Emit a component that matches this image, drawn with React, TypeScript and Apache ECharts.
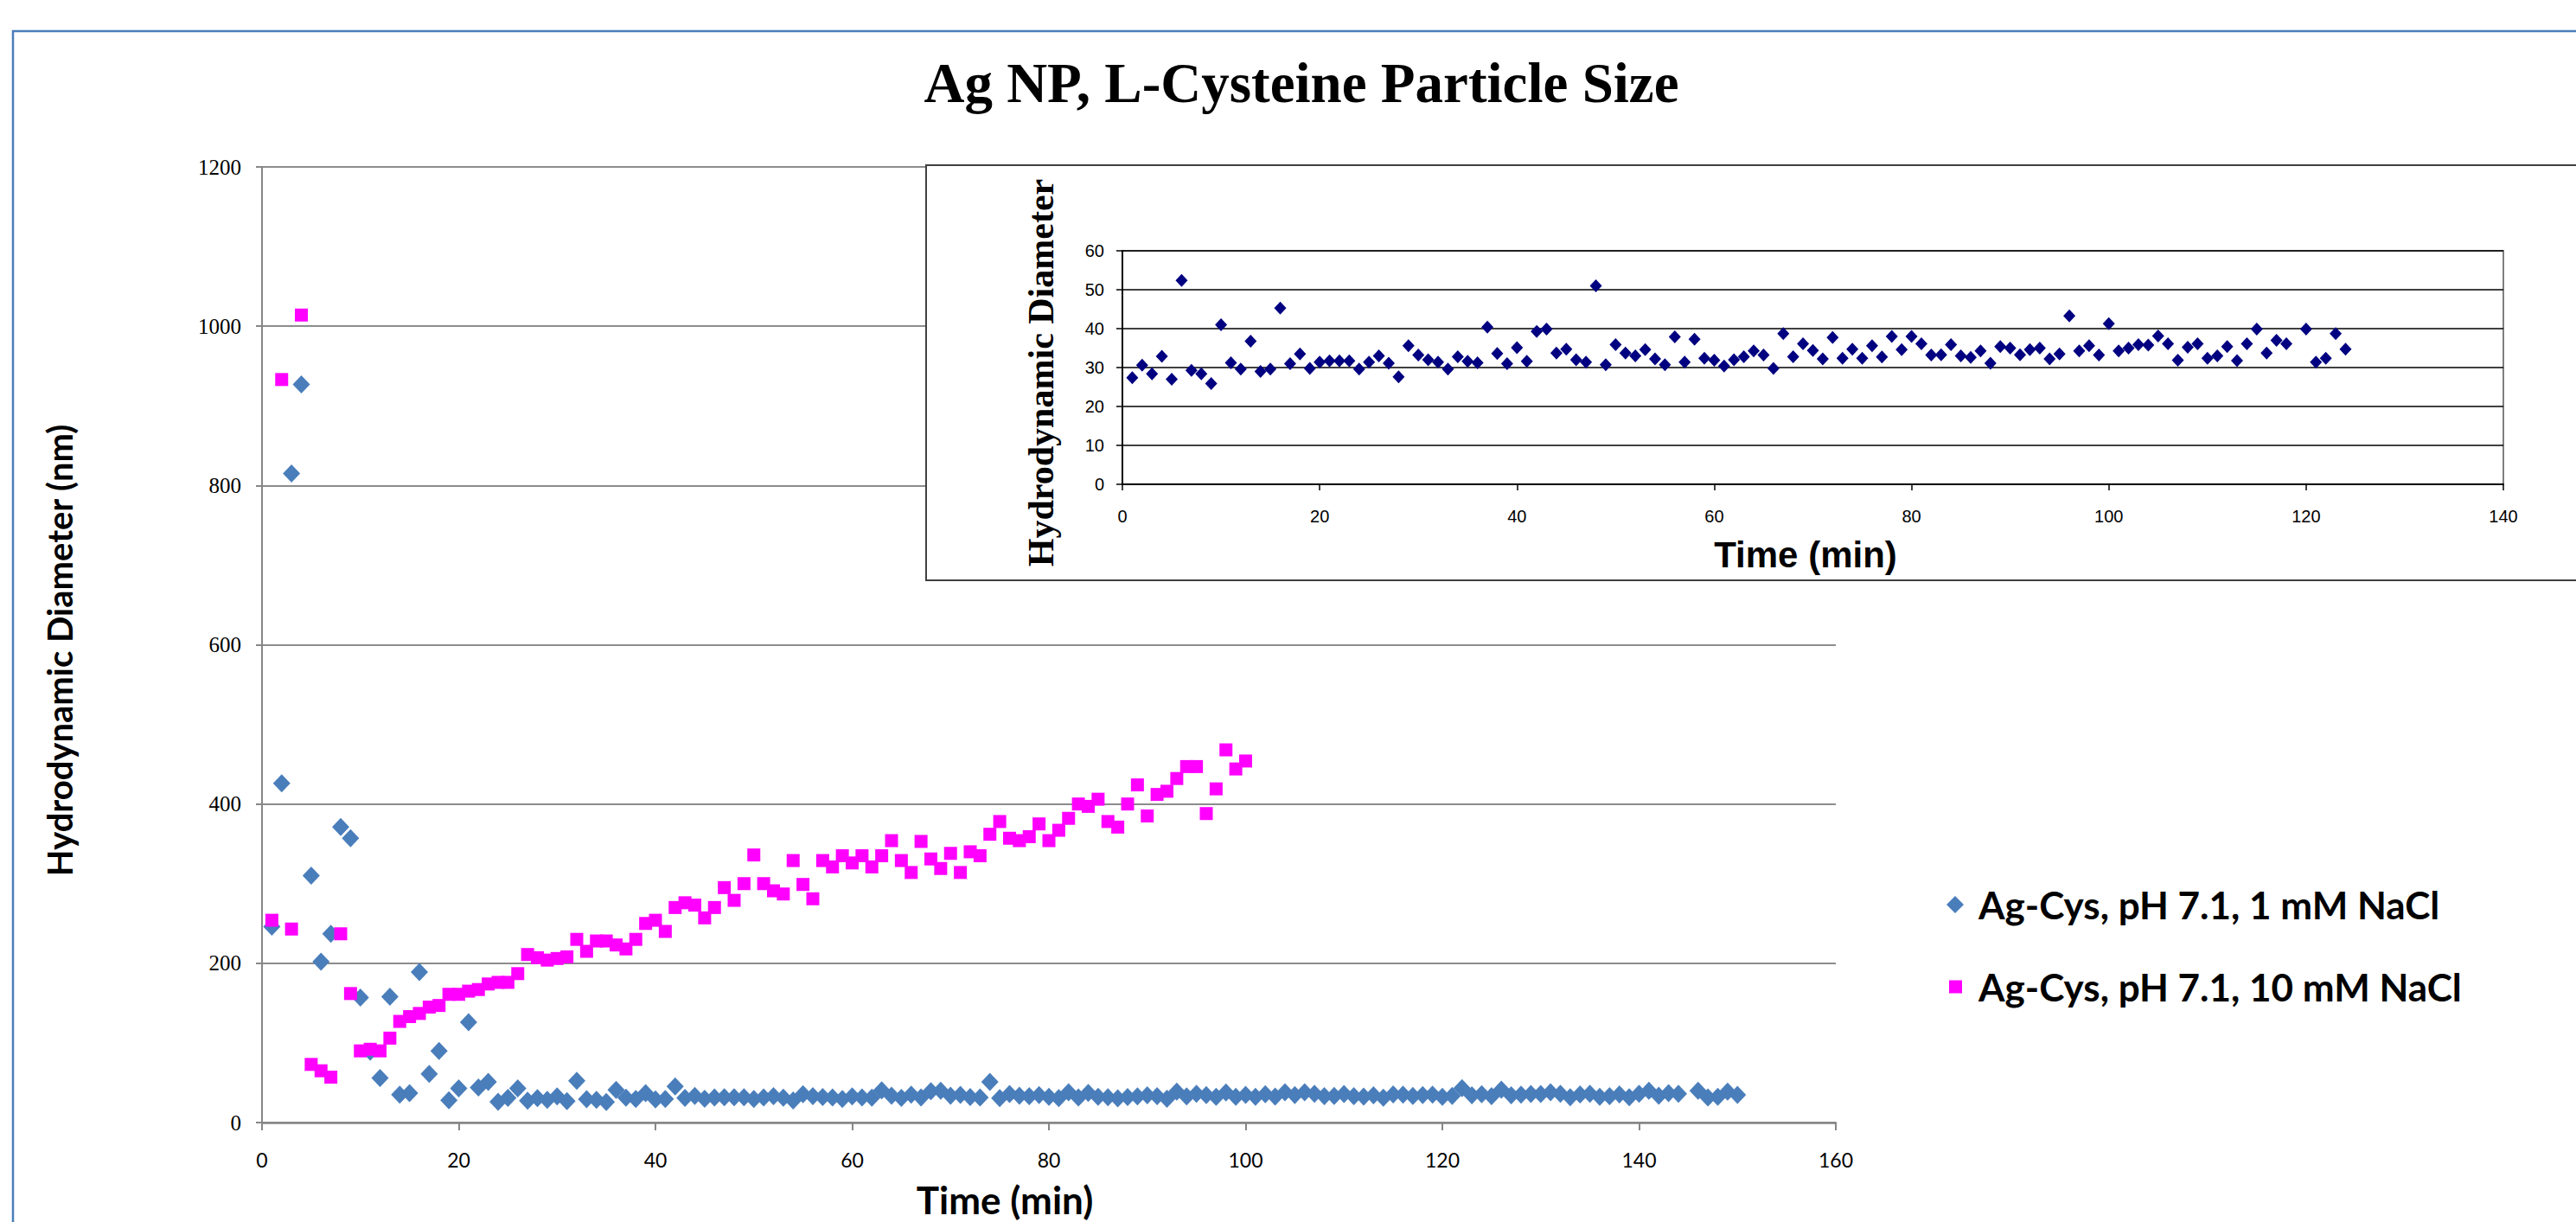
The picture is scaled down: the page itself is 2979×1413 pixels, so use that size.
import React, { useEffect, useRef } from "react";
import * as echarts from "echarts";

// ---------- data ----------
const SERIES_1MM = "Ag-Cys, pH 7.1, 1 mM NaCl";
const SERIES_10MM = "Ag-Cys, pH 7.1, 10 mM NaCl";

// main chart x ticks / y ticks
const mainXMax = 160;
const mainXStep = 20;
const mainYMax = 1200;
const mainYStep = 200;
const insetXMax = 140;
const insetXStep = 20;
const insetYMax = 60;
const insetYStep = 10;

// 1 mM NaCl, minutes 1..26 (main chart)
const blue1mmEarly = [
  246, 426, 815, 927, 310, 202, 237, 371, 357, 157, 89, 56, 158, 35, 37, 189,
  61, 90, 28, 43, 126, 44, 51, 26, 31, 43,
];
// the inset shows the same 1 mM run after the first 26 min (its minute 1 = minute 27)
const insetOffsetMin = 26;
// inset values, minutes 1..124 (null = no reading)
const insetValues = [
  27.4, 30.6, 28.4, 32.9, 27.0, 52.4, 29.3, 28.4, 25.9, 41.0,
  31.2, 29.6, 36.8, 29.0, 29.6, 45.3, 31.0, 33.5, 29.8, 31.4,
  31.7, 31.7, 31.7, 29.6, 31.4, 33.0, 31.1, 27.6, 35.6, 33.2,
  32.0, 31.4, 29.6, 32.8, 31.6, 31.2, 40.4, 33.6, 31.0, 35.1,
  31.6, 39.3, 39.9, 33.7, 34.7, 32.0, 31.4, 51.0, 30.7, 35.9,
  33.7, 33.0, 34.6, 32.2, 30.7, 37.9, 31.4, 37.3, 32.4, 31.9,
  30.4, 32.0, 32.8, 34.3, 33.2, 29.8, 38.7, 32.8, 36.1, 34.4,
  32.2, 37.7, 32.4, 34.7, 32.4, 35.6, 32.7, 38.0, 34.6, 38.0,
  36.1, 33.2, 33.3, 35.9, 33.0, 32.6, 34.3, 31.1, 35.4, 35.0,
  33.3, 34.6, 35.0, 32.2, 33.5, 43.3, 34.3, 35.6, 33.2, 41.3,
  34.3, 35.0, 35.9, 35.8, 38.1, 36.1, 31.9, 35.2, 36.1, 32.4,
  33.0, 35.4, 31.8, 36.1, 39.9, 33.7, 37.0, 36.1, null, 39.9,
  31.4, 32.4, 38.7, 34.7,
];
// 10 mM NaCl, minutes 1..100
const pink10mm = [
  254, 933, 243, 1014, 73, 65, 57, 237, 162, 90,
  92, 90, 106, 127, 133, 137, 145, 147, 161, 161,
  165, 167, 174, 176, 176, 187, 211, 207, 204, 206,
  208, 230, 215, 228, 228, 223, 218, 230, 250, 254,
  240, 270, 276, 273, 257, 270, 295, 279, 300, 336,
  300, 291, 287, 329, 299, 281, 329, 321, 335, 326,
  335, 321, 335, 354, 329, 314, 353, 331, 319, 338,
  314, 340, 335, 362, 378, 357, 354, 359, 375, 354,
  367, 382, 400, 397, 406, 378, 371, 400, 424, 385,
  412, 416, 432, 447, 447, 388, 419, 468, 444, 454,
];

const blueMain: number[][] = [
  ...blue1mmEarly.map((v, i) => [i + 1, v]),
  ...insetValues
    .map((v, i) => (v == null ? null : [i + 1 + insetOffsetMin, v]))
    .filter((p): p is number[] => p !== null),
];
const pinkMain: number[][] = pink10mm.map((v, i) => [i + 1, v]);
const insetPts: number[][] = insetValues
  .map((v, i) => (v == null ? null : [i + 1, v]))
  .filter((p): p is number[] => p !== null);

const plain = (v: number) => String(v);

export default function App() {
  const ref = useRef<HTMLDivElement>(null);

  useEffect(() => {
    if (!ref.current) return;
    const chart = echarts.init(ref.current, undefined, { renderer: "svg" });
    const gray = "#878787";
    const option = {
      animation: false,
      backgroundColor: "#ffffff",
      textStyle: { fontFamily: "Lato" },
      grid: [
        { left: 303, top: 193, width: 1820, height: 1105, z: 0 },
        {
          left: 1298, top: 290, width: 1597, height: 270, z: 5,
          show: true, borderColor: "#808080", borderWidth: 2,
          backgroundColor: "transparent",
        },
      ],
      xAxis: [
        {
          gridIndex: 0, type: "value", min: 0, max: mainXMax, interval: mainXStep,
          axisLine: { show: true, onZero: false, lineStyle: { color: gray, width: 2.5 } },
          axisTick: { show: true, length: 9, lineStyle: { color: gray, width: 2 } },
          axisLabel: { margin: 31, fontFamily: "Lato", fontSize: 23, color: "#000", formatter: plain },
          splitLine: { show: false },
        },
        {
          gridIndex: 1, type: "value", min: 0, max: insetXMax, interval: insetXStep, z: 6,
          axisLine: { show: true, onZero: false, lineStyle: { color: "#000", width: 2 } },
          axisTick: { show: true, length: 7, lineStyle: { color: "#000", width: 1.5 } },
          axisLabel: { margin: 27, fontFamily: "Liberation Sans", fontSize: 20, color: "#000", formatter: plain },
          splitLine: { show: false },
        },
      ],
      yAxis: [
        {
          gridIndex: 0, type: "value", min: 0, max: mainYMax, interval: mainYStep,
          axisLine: { show: true, lineStyle: { color: gray, width: 2 } },
          axisTick: { show: true, length: 7, lineStyle: { color: gray, width: 2 } },
          axisLabel: { margin: 24, fontFamily: "Liberation Serif", fontSize: 25, color: "#000", formatter: plain },
          splitLine: { show: true, lineStyle: { color: "#8c8c8c", width: 2 } },
        },
        {
          gridIndex: 1, type: "value", min: 0, max: insetYMax, interval: insetYStep, z: 6,
          axisLine: { show: true, lineStyle: { color: "#000", width: 2 } },
          axisTick: { show: true, length: 7, lineStyle: { color: "#000", width: 1.5 } },
          axisLabel: { margin: 21, fontFamily: "Liberation Sans", fontSize: 20, color: "#000", formatter: plain },
          splitLine: { show: true, lineStyle: { color: "#000", width: 1.5 } },
        },
      ],
      legend: [
        {
          data: [{ name: SERIES_1MM, icon: "diamond" }],
          left: 2251, top: 1024, padding: 0, itemWidth: 20, itemHeight: 20,
          selectedMode: false,
          textStyle: { fontFamily: "Lato", fontWeight: "bold", fontSize: 44, color: "#000", padding: [0, 0, 0, 12] },
        },
        {
          data: [{ name: SERIES_10MM, icon: "rect" }],
          left: 2254, top: 1119, padding: 0, itemWidth: 15, itemHeight: 15,
          selectedMode: false,
          textStyle: { fontFamily: "Lato", fontWeight: "bold", fontSize: 44, color: "#000", padding: [0, 0, 0, 14] },
        },
      ],
      graphic: [
        {
          type: "rect", z: 0, silent: true,
          shape: { x: 15, y: 36, width: 3100, height: 1600 },
          style: { fill: "none", stroke: "#4a7ebb", lineWidth: 2.5 },
        },
        {
          type: "rect", z: 3, silent: true,
          shape: { x: 1071, y: 191, width: 2100, height: 480 },
          style: { fill: "#ffffff", stroke: "#404040", lineWidth: 2 },
        },
        {
          type: "text", z: 10, x: 1505, y: 96,
          style: {
            text: "Ag NP, L-Cysteine Particle Size", fontFamily: "Liberation Serif",
            fontWeight: "bold", fontSize: 65, fill: "#000", align: "center", verticalAlign: "middle",
          },
        },
        {
          type: "text", z: 10, x: 69, y: 752, rotation: Math.PI / 2,
          style: {
            text: "Hydrodynamic Diameter (nm)", fontFamily: "Lato", fontWeight: "bold",
            fontSize: 40, fill: "#000", align: "center", verticalAlign: "middle",
          },
        },
        {
          type: "text", z: 10, x: 1162, y: 1387,
          style: {
            text: "Time (min)", fontFamily: "Lato", fontWeight: "bold",
            fontSize: 44, fill: "#000", align: "center", verticalAlign: "middle",
          },
        },
        {
          type: "text", z: 10, x: 1204, y: 431, rotation: Math.PI / 2,
          style: {
            text: "Hydrodynamic Diameter", fontFamily: "Liberation Serif", fontWeight: "bold",
            fontSize: 42, fill: "#000", align: "center", verticalAlign: "middle",
          },
        },
        {
          type: "text", z: 10, x: 2088, y: 641,
          style: {
            text: "Time (min)", fontFamily: "Liberation Sans", fontWeight: "bold",
            fontSize: 42, fill: "#000", align: "center", verticalAlign: "middle",
          },
        },
      ],
      series: [
        {
          name: SERIES_1MM, type: "scatter", xAxisIndex: 0, yAxisIndex: 0,
          symbol: "diamond", symbolSize: [20, 21], z: 2,
          itemStyle: { color: "#4a7ebb", opacity: 1 },
          data: blueMain,
        },
        {
          name: SERIES_10MM, type: "scatter", xAxisIndex: 0, yAxisIndex: 0,
          symbol: "rect", symbolSize: [15, 15], z: 2,
          itemStyle: { color: "#ff00ff", opacity: 1 },
          data: pinkMain,
        },
        {
          name: "inset", type: "scatter", xAxisIndex: 1, yAxisIndex: 1,
          symbol: "diamond", symbolSize: [14, 15], z: 8,
          itemStyle: { color: "#000080", opacity: 1 },
          data: insetPts,
        },
      ],
    };
    chart.setOption(option as any);
    return () => chart.dispose();
  }, []);

  return (
    <div
      ref={ref}
      style={{ position: "fixed", left: 0, top: 0, width: 2979, height: 1413, background: "#fff" }}
    />
  );
}
